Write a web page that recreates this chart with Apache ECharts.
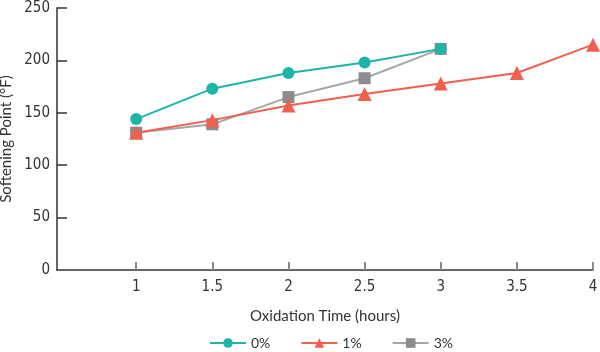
<!DOCTYPE html>
<html>
<head>
    <meta charset="utf-8">
    <title>Softening Point vs Oxidation Time</title>
    <script src="https://cdn.jsdelivr.net/npm/echarts@6.0.0/dist/echarts.min.js"></script>
    <style>
        body, html { margin: 0; padding: 0; height: 100%; overflow: hidden; background: #fff; }
        #main { width: 600px; height: 352px; }
    </style>
</head>
<body>
    <div id="main"></div>
    <script>
        // data
        var hours0 = [1, 1.5, 2, 2.5, 3];
        var pct0 = [144, 173, 188, 198, 211];
        var hours1 = [1, 1.5, 2, 2.5, 3, 3.5, 4];
        var pct1 = [131, 143, 157, 168, 178, 188, 215];
        var hours3 = [1, 1.5, 2, 2.5, 3];
        var pct3 = [131, 139, 165, 183, 211];
        var seriesNames = ['0%', '1%', '3%'];
        var xTicks = [1, 1.5, 2, 2.5, 3, 3.5, 4];
        var yTicks = [50, 100, 150, 200, 250];

        function pairs(xs, ys) {
            return xs.map(function (x, i) { return [x, ys[i]]; });
        }

        var labelFont = 'Liberation Sans Narrow, DejaVu Sans Condensed, Roboto, sans-serif';
        var titleFont = 'Lato, Noto Sans, sans-serif';

        var myChart = echarts.init(document.getElementById('main'));
        var option = {
            animation: false,
            backgroundColor: '#fff',
            grid: { left: 57, right: 7, top: 8, bottom: 82, outerBoundsMode: 'none' },
            legend: {
                bottom: -3,
                left: 204,
                itemWidth: 36,
                itemHeight: 12,
                itemGap: 30,
                textStyle: { fontFamily: titleFont, fontSize: 14, color: '#333' },
                data: seriesNames
            },
            xAxis: {
                type: 'value',
                min: 0.48,
                max: 4,
                name: 'Oxidation Time (hours)',
                nameLocation: 'middle',
                nameGap: 39,
                nameTextStyle: { fontFamily: titleFont, fontSize: 15, color: '#333' },
                splitLine: { show: false },
                axisLine: { lineStyle: { color: '#333', width: 1.5 } },
                axisTick: {
                    inside: true, length: 8,
                    lineStyle: { color: '#888', width: 2 },
                    customValues: xTicks
                },
                axisLabel: {
                    color: '#333', fontSize: 15, fontFamily: labelFont, margin: 10,
                    customValues: xTicks
                }
            },
            yAxis: {
                type: 'value',
                min: 0,
                max: 250,
                interval: 50,
                name: 'Softening Point (°F)',
                nameLocation: 'middle',
                nameGap: 38,
                nameTextStyle: { fontFamily: titleFont, fontSize: 15, color: '#333' },
                splitLine: { show: false },
                axisLine: { show: true, lineStyle: { color: '#333', width: 1.5 } },
                axisTick: {
                    show: true, inside: true, length: 10,
                    lineStyle: { color: '#333', width: 1.5 },
                    customValues: yTicks
                },
                axisLabel: { color: '#333', fontSize: 15, fontFamily: labelFont, margin: 7 }
            },
            series: [
                {
                    name: '0%', type: 'line', data: pairs(hours0, pct0),
                    symbol: 'circle', symbolSize: 12,
                    lineStyle: { color: '#1db5a9', width: 2 },
                    itemStyle: { color: '#1db5a9' }, z: 3
                },
                {
                    name: '1%', type: 'line', data: pairs(hours1, pct1),
                    symbol: 'triangle', symbolSize: 14,
                    lineStyle: { color: '#f0604f', width: 2 },
                    itemStyle: { color: '#f0604f' }, z: 4
                },
                {
                    name: '3%', type: 'line', data: pairs(hours3, pct3),
                    symbol: 'rect', symbolSize: 12,
                    lineStyle: { color: '#a6a6a8', width: 2 },
                    itemStyle: { color: '#8b8b90' }, z: 2
                }
            ]
        };
        myChart.setOption(option);
        window.addEventListener('resize', function () { myChart.resize(); });
    </script>
</body>
</html>
